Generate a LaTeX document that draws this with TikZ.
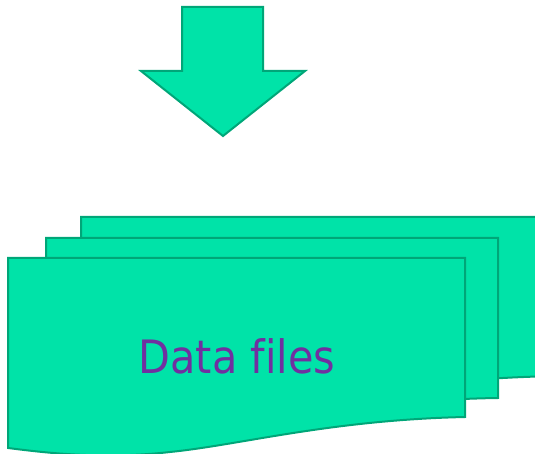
\documentclass[tikz,border=0pt]{standalone}
\usepackage{fontspec}
\setmainfont{DejaVu Sans Condensed}
\definecolor{docfill}{RGB}{0,227,168}
\definecolor{docline}{RGB}{0,166,120}
\definecolor{txtpurple}{RGB}{112,48,160}
\begin{document}
\begin{tikzpicture}[x=1pt,y=-1pt,
  shapestyle/.style={fill=docfill,draw=docline,line width=2pt,line join=miter}]
\useasboundingbox (0,0) rectangle (535,454);
% down arrow
\draw[shapestyle] (182,7) -- (263,7) -- (263,71) -- (305,71) -- (223,136) -- (141,71) -- (182,71) -- cycle;
% back document
\draw[shapestyle] (81,217) -- (560,217) -- (560,376)
  .. controls (420,378) and (330,400) .. (260,412)
  .. controls (180,425) and (110,410) .. (81,407) -- cycle;
% middle document
\draw[shapestyle] (46,238) -- (498,238) -- (498,398)
  .. controls (360,400) and (270,425) .. (200,433)
  .. controls (130,440) and (75,430) .. (46,428) -- cycle;
% front document
\draw[shapestyle] (8,258) -- (465,258) -- (465,417)
  .. controls (330,420) and (240,445) .. (170,452)
  .. controls (100,460) and (40,452) .. (8,448) -- cycle;
\node[text=txtpurple,font=\fontsize{46}{55}\selectfont,inner sep=0pt] (lbl) at (237,356) {Data f\kern0pt iles};
\end{tikzpicture}
\end{document}
